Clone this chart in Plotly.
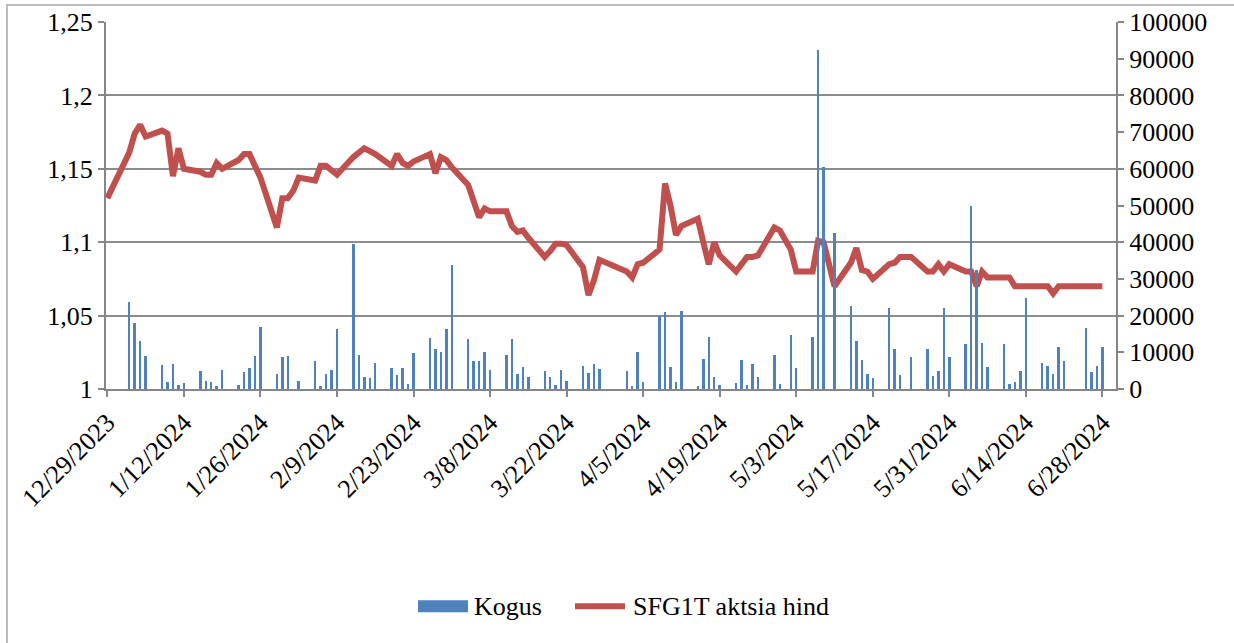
import plotly.graph_objects as go

# ---- data ----
dates = [
    "2023-12-29",
    "2024-01-02", "2024-01-03", "2024-01-04", "2024-01-05",
    "2024-01-08", "2024-01-09", "2024-01-10", "2024-01-11", "2024-01-12",
    "2024-01-15", "2024-01-16", "2024-01-17", "2024-01-18", "2024-01-19",
    "2024-01-22", "2024-01-23", "2024-01-24", "2024-01-25", "2024-01-26",
    "2024-01-29", "2024-01-30", "2024-01-31", "2024-02-01", "2024-02-02",
    "2024-02-05", "2024-02-06", "2024-02-07", "2024-02-08", "2024-02-09",
    "2024-02-12", "2024-02-13", "2024-02-14", "2024-02-15", "2024-02-16",
    "2024-02-19", "2024-02-20", "2024-02-21", "2024-02-22", "2024-02-23",
    "2024-02-26", "2024-02-27", "2024-02-28", "2024-02-29", "2024-03-01",
    "2024-03-04", "2024-03-05", "2024-03-06", "2024-03-07", "2024-03-08",
    "2024-03-11", "2024-03-12", "2024-03-13", "2024-03-14", "2024-03-15",
    "2024-03-18", "2024-03-19", "2024-03-20", "2024-03-21", "2024-03-22",
    "2024-03-25", "2024-03-26", "2024-03-27", "2024-03-28",
    "2024-04-02", "2024-04-03", "2024-04-04", "2024-04-05",
    "2024-04-08", "2024-04-09", "2024-04-10", "2024-04-11", "2024-04-12",
    "2024-04-15", "2024-04-16", "2024-04-17", "2024-04-18", "2024-04-19",
    "2024-04-22", "2024-04-23", "2024-04-24", "2024-04-25", "2024-04-26",
    "2024-04-29", "2024-04-30", "2024-05-02", "2024-05-03",
    "2024-05-06", "2024-05-07", "2024-05-08", "2024-05-09", "2024-05-10",
    "2024-05-13", "2024-05-14", "2024-05-15", "2024-05-16", "2024-05-17",
    "2024-05-20", "2024-05-21", "2024-05-22", "2024-05-23", "2024-05-24",
    "2024-05-27", "2024-05-28", "2024-05-29", "2024-05-30", "2024-05-31",
    "2024-06-03", "2024-06-04", "2024-06-05", "2024-06-06", "2024-06-07",
    "2024-06-10", "2024-06-11", "2024-06-12", "2024-06-13", "2024-06-14",
    "2024-06-17", "2024-06-18", "2024-06-19", "2024-06-20", "2024-06-21",
    "2024-06-25", "2024-06-26", "2024-06-27", "2024-06-28",
]

price = [
    1.130,
    1.161, 1.174, 1.180, 1.172,
    1.176, 1.174, 1.145, 1.164, 1.150,
    1.148, 1.146, 1.146, 1.154, 1.150,
    1.156, 1.160, 1.160, 1.152, 1.144,
    1.110, 1.130, 1.130, 1.135, 1.144,
    1.142, 1.152, 1.152, 1.149, 1.146,
    1.158, 1.161, 1.164, 1.162, 1.160,
    1.152, 1.160, 1.154, 1.152, 1.155,
    1.160, 1.147, 1.158, 1.156, 1.151,
    1.139, 1.128, 1.117, 1.123, 1.121,
    1.121, 1.111, 1.107, 1.108, 1.103,
    1.090, 1.094, 1.099, 1.099, 1.098,
    1.083, 1.064, 1.074, 1.088,
    1.080, 1.076, 1.085, 1.086,
    1.095, 1.140, 1.125, 1.105, 1.111,
    1.116, 1.100, 1.085, 1.100, 1.091,
    1.080, 1.085, 1.090, 1.090, 1.091,
    1.110, 1.108, 1.095, 1.080,
    1.080, 1.101, 1.100, 1.085, 1.070,
    1.086, 1.096, 1.081, 1.080, 1.075,
    1.085, 1.086, 1.090, 1.090, 1.090,
    1.080, 1.080, 1.085, 1.080, 1.085,
    1.080, 1.080, 1.070, 1.080, 1.076,
    1.076, 1.076, 1.070, 1.070, 1.070,
    1.070, 1.070, 1.065, 1.070, 1.070,
    1.070, 1.070, 1.070, 1.070,
]

volume = [
    0,
    23700, 18100, 13100, 8900,
    6600, 2000, 6700, 1000, 1700,
    5000, 2300, 2000, 800, 5300,
    1100, 4500, 5600, 8900, 16900,
    4200, 8700, 8900, 0, 2200,
    7700, 800, 4200, 5300, 16400,
    39500, 9300, 3300, 2900, 7100,
    5800, 3700, 5700, 1400, 9800,
    13900, 10900, 10200, 16400, 33900,
    13500, 7600, 7700, 10200, 5300,
    9300, 13600, 4000, 5900, 3200,
    5000, 3300, 1200, 5100, 2300,
    6400, 4300, 6700, 5500,
    5000, 800, 10100, 1800,
    19900, 21000, 5900, 1800, 21200,
    800, 8200, 14100, 3300, 1200,
    1700, 7900, 1200, 6800, 3300,
    9300, 1400, 14600, 5800,
    14300, 92400, 60500, 0, 42500,
    22500, 13200, 8000, 4200, 3000,
    22100, 11000, 3700, 0, 8700,
    10900, 3500, 5000, 22100, 8800,
    12200, 50000, 32500, 12600, 5900,
    12200, 1400, 1800, 5000, 24800,
    7000, 6300, 4200, 11500, 7600,
    16700, 4500, 6400, 11500,
]

x_tick_dates = [
    "2023-12-29", "2024-01-12", "2024-01-26", "2024-02-09", "2024-02-23",
    "2024-03-08", "2024-03-22", "2024-04-05", "2024-04-19", "2024-05-03",
    "2024-05-17", "2024-05-31", "2024-06-14", "2024-06-28",
]
x_tick_labels = [
    "12/29/2023", "1/12/2024", "1/26/2024", "2/9/2024", "2/23/2024",
    "3/8/2024", "3/22/2024", "4/5/2024", "4/19/2024", "5/3/2024",
    "5/17/2024", "5/31/2024", "6/14/2024", "6/28/2024",
]
left_tick_vals = [1.0, 1.05, 1.1, 1.15, 1.2, 1.25]
left_tick_labels = ["1", "1,05", "1,1", "1,15", "1,2", "1,25"]
right_tick_vals = [0, 10000, 20000, 30000, 40000, 50000, 60000, 70000, 80000, 90000, 100000]
right_tick_labels = ["0", "10000", "20000", "30000", "40000", "50000",
                     "60000", "70000", "80000", "90000", "100000"]

series_names = ["Kogus", "SFG1T aktsia hind"]

# ---- figure ----
BLUE = "#4F81BD"
RED = "#C0504D"
AXIS = "#868686"
FONT = "Liberation Serif"

fig = go.Figure()
fig.add_trace(go.Bar(
    x=dates, y=volume, name=series_names[0], yaxis="y2",
    marker=dict(color=BLUE, line=dict(width=0)),
    width=0.45 * 86400000, showlegend=False,
))
fig.add_trace(go.Scatter(
    x=dates, y=price, name=series_names[1], yaxis="y",
    mode="lines", line=dict(color=RED, width=6), showlegend=False,
))

L, R, T, B = 106, 118, 22, 253.5
W, H = 1234, 643
pw = W - L - R
ph = H - T - B


def px_x(x):
    return (x - L) / pw


def px_y(y):
    return (T + ph - y) / ph


legend_y = 607
shapes = [
    # outer chart frame
    dict(type="rect", xref="paper", yref="paper",
         x0=px_x(7), x1=1.5, y0=-1.0, y1=px_y(5),
         line=dict(color="#A6A6A6", width=1.5),
         fillcolor="rgba(0,0,0,0)", layer="below"),
    # legend keys
    dict(type="rect", xref="paper", yref="paper",
         x0=px_x(418), x1=px_x(468), y0=px_y(613), y1=px_y(601),
         line=dict(width=0), fillcolor=BLUE),
    dict(type="line", xref="paper", yref="paper",
         x0=px_x(575), x1=px_x(625), y0=px_y(legend_y), y1=px_y(legend_y),
         line=dict(color=RED, width=6)),
]
annotations = [
    dict(xref="paper", yref="paper", x=px_x(472), y=px_y(legend_y),
         text=series_names[0], showarrow=False, xanchor="left", yanchor="middle",
         font=dict(family=FONT, size=26, color="black")),
    dict(xref="paper", yref="paper", x=px_x(631), y=px_y(legend_y),
         text=series_names[1], showarrow=False, xanchor="left", yanchor="middle",
         font=dict(family=FONT, size=26, color="black")),
]

fig.update_layout(
    width=W, height=H,
    margin=dict(l=L, r=R, t=T, b=B, pad=0, autoexpand=False),
    paper_bgcolor="white", plot_bgcolor="white",
    font=dict(family=FONT, size=26, color="black"),
    bargap=0,
    showlegend=False,
    xaxis=dict(
        type="date",
        range=["2023-12-28 18:00", "2024-06-30 11:45"],
        tickmode="array", tickvals=x_tick_dates, ticktext=x_tick_labels,
        tickangle=-45, automargin=False,
        ticks="outside", ticklen=6, tickwidth=1.5, tickcolor=AXIS,
        showline=True, linecolor=AXIS, linewidth=2,
        showgrid=False, zeroline=False,
        tickfont=dict(family=FONT, size=26, color="black"),
    ),
    yaxis=dict(
        range=[1.0, 1.25], automargin=False,
        tickmode="array", tickvals=left_tick_vals, ticktext=left_tick_labels,
        ticks="outside", ticklen=6, tickwidth=1.5, tickcolor=AXIS,
        showline=True, linecolor=AXIS, linewidth=2,
        showgrid=True, gridcolor="#8C8C8C", gridwidth=1.5,
        zeroline=False,
        tickfont=dict(family=FONT, size=26, color="black"),
    ),
    yaxis2=dict(
        overlaying="y", side="right", automargin=False,
        range=[0, 100000],
        tickmode="array", tickvals=right_tick_vals, ticktext=right_tick_labels,
        ticks="outside", ticklen=6, tickwidth=1.5, tickcolor=AXIS,
        showline=True, linecolor=AXIS, linewidth=2,
        showgrid=False, zeroline=False,
        tickfont=dict(family=FONT, size=26, color="black"),
    ),
    shapes=shapes,
    annotations=annotations,
)

fig.write_html(
    "out.html",
    config={"displayModeBar": False},
    post_script="document.body.style.margin='0px';document.body.style.overflow='hidden';",
)
